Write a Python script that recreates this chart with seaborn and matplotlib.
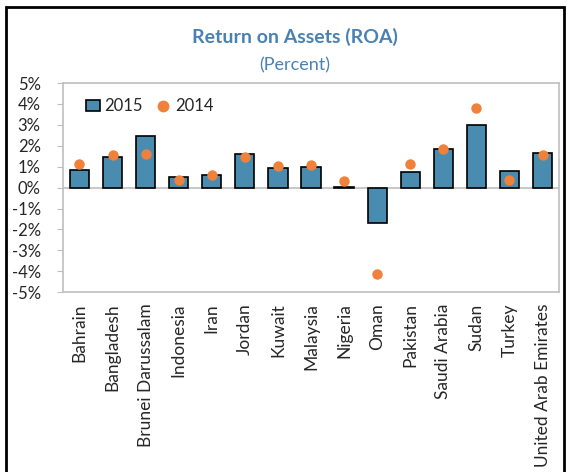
import matplotlib
matplotlib.use("Agg")
import matplotlib.pyplot as plt
import seaborn as sns
import pandas as pd
from matplotlib.patches import Rectangle
from matplotlib.lines import Line2D
from matplotlib.ticker import FuncFormatter

sns.set_style("white")
plt.rcParams['font.family'] = ['Lato', 'DejaVu Sans']

countries = ["Bahrain", "Bangladesh", "Brunei Darussalam", "Indonesia", "Iran", "Jordan",
             "Kuwait", "Malaysia", "Nigeria", "Oman", "Pakistan", "Saudi Arabia", "Sudan",
             "Turkey", "United Arab Emirates"]
roa2015 = [0.86, 1.48, 2.45, 0.50, 0.62, 1.62, 0.92, 1.00, 0.05, -1.67, 0.75, 1.87, 3.00, 0.80, 1.67]
roa2014 = [1.15, 1.55, 1.60, 0.35, 0.60, 1.45, 1.02, 1.10, 0.30, -4.15, 1.15, 1.85, 3.80, 0.35, 1.55]

df = pd.DataFrame({"country": countries, "2015": roa2015, "2014": roa2014})

barColor = "#4a8bb0"
dotColor = "#f0813a"
titleColor = "#4a81b3"

fig = plt.figure(figsize=(5.67, 4.72), dpi=100)
ax = fig.add_axes([0.111, 0.381, 0.875, 0.443])

sns.barplot(data=df, x="country", y="2015", color=barColor, edgecolor="black",
            linewidth=1.2, width=0.58, saturation=1, ax=ax)
sns.stripplot(data=df, x="country", y="2014", color=dotColor, jitter=False, size=7.5,
              linewidth=0, ax=ax, zorder=5)

ax.axhline(0, color="#bfbfbf", lw=1.2, zorder=0)
ax.set_ylim(-5, 5)
ax.set_xlim(-0.5, len(countries) - 0.5)
ax.set_yticks(range(-5, 6))
ax.yaxis.set_major_formatter(FuncFormatter(lambda v, p: "{:d}%".format(int(v))))
ax.set_xlabel("")
ax.set_ylabel("")
ax.tick_params(axis="y", labelsize=12, length=4, color="#bfbfbf", direction="out", left=True, pad=12)
ax.tick_params(axis="x", labelsize=12.5, length=0, pad=8)
plt.setp(ax.get_xticklabels(), rotation=90)
for s in ax.spines.values():
    s.set_color("#bfbfbf")
    s.set_linewidth(1.2)

handles = [Rectangle((0, 0), 1, 1, facecolor=barColor, edgecolor="black", linewidth=1.2),
           Line2D([], [], marker="o", ls="", color=dotColor, markersize=7.5)]
ax.legend(handles, ["2015", "2014"], loc="upper left", ncol=2, frameon=False, fontsize=12,
          handlelength=0.8, handletextpad=0.3, columnspacing=0.8, borderaxespad=0.4,
          bbox_to_anchor=(0.02, 0.99))

fig.text(0.52, 0.921, "Return on Assets (ROA)", ha="center", va="center", fontsize=14,
         fontweight="bold", color=titleColor)
fig.text(0.52, 0.862, "(Percent)", ha="center", va="center", fontsize=13, color=titleColor)

fig.patches.append(Rectangle((0.011, -0.02), 0.984, 1.005, transform=fig.transFigure,
                             fill=False, edgecolor="black", linewidth=2))

fig.savefig("out.png", dpi=100)
